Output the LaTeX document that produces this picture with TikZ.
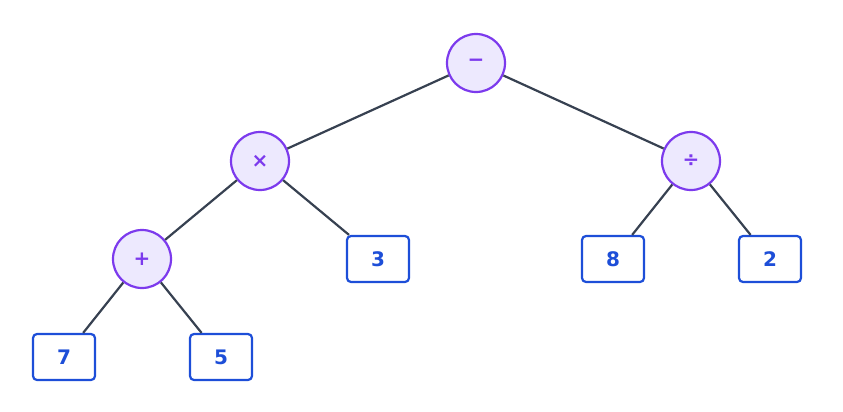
\documentclass[tikz,border=0pt]{standalone}
\usepackage{fontspec}
\setmainfont{DejaVu Sans}
\definecolor{opf}{HTML}{EDE9FE}
\definecolor{ops}{HTML}{7C3AED}
\definecolor{num}{HTML}{1D4ED8}
\definecolor{edge}{HTML}{374151}
\begin{document}
\begin{tikzpicture}[x=1pt,y=-1pt,
 op/.style={circle,draw=ops,fill=opf,line width=2.2pt,minimum size=58pt,inner sep=0pt,text=ops,font=\bfseries\fontsize{20}{20}\selectfont},
 nm/.style={rectangle,rounded corners=4pt,draw=num,fill=white,line width=2.2pt,minimum width=62pt,minimum height=46pt,inner sep=0pt,text=num,font=\bfseries\fontsize{20}{20}\selectfont},
 ed/.style={draw=edge,line width=2.2pt}]
\useasboundingbox (0,0) rectangle (843,412);
\node[op] (m) at (476,63) {−};
\node[op] (t) at (260,161) {×};
\node[op] (d) at (691,161) {÷};
\node[op] (p) at (142,259) {+};
\node[nm] (n3) at (378,259) {3};
\node[nm] (n8) at (613,259) {8};
\node[nm] (n2) at (770,259) {2};
\node[nm] (n7) at (64,357) {7};
\node[nm] (n5) at (221,357) {5};
\begin{scope}[on background layer/.style={}]
\end{scope}
\draw[ed] (m) -- (t); \draw[ed] (m) -- (d);
\draw[ed] (t) -- (p); \draw[ed] (t) -- (n3);
\draw[ed] (d) -- (n8); \draw[ed] (d) -- (n2);
\draw[ed] (p) -- (n7); \draw[ed] (p) -- (n5);
\end{tikzpicture}
\end{document}
